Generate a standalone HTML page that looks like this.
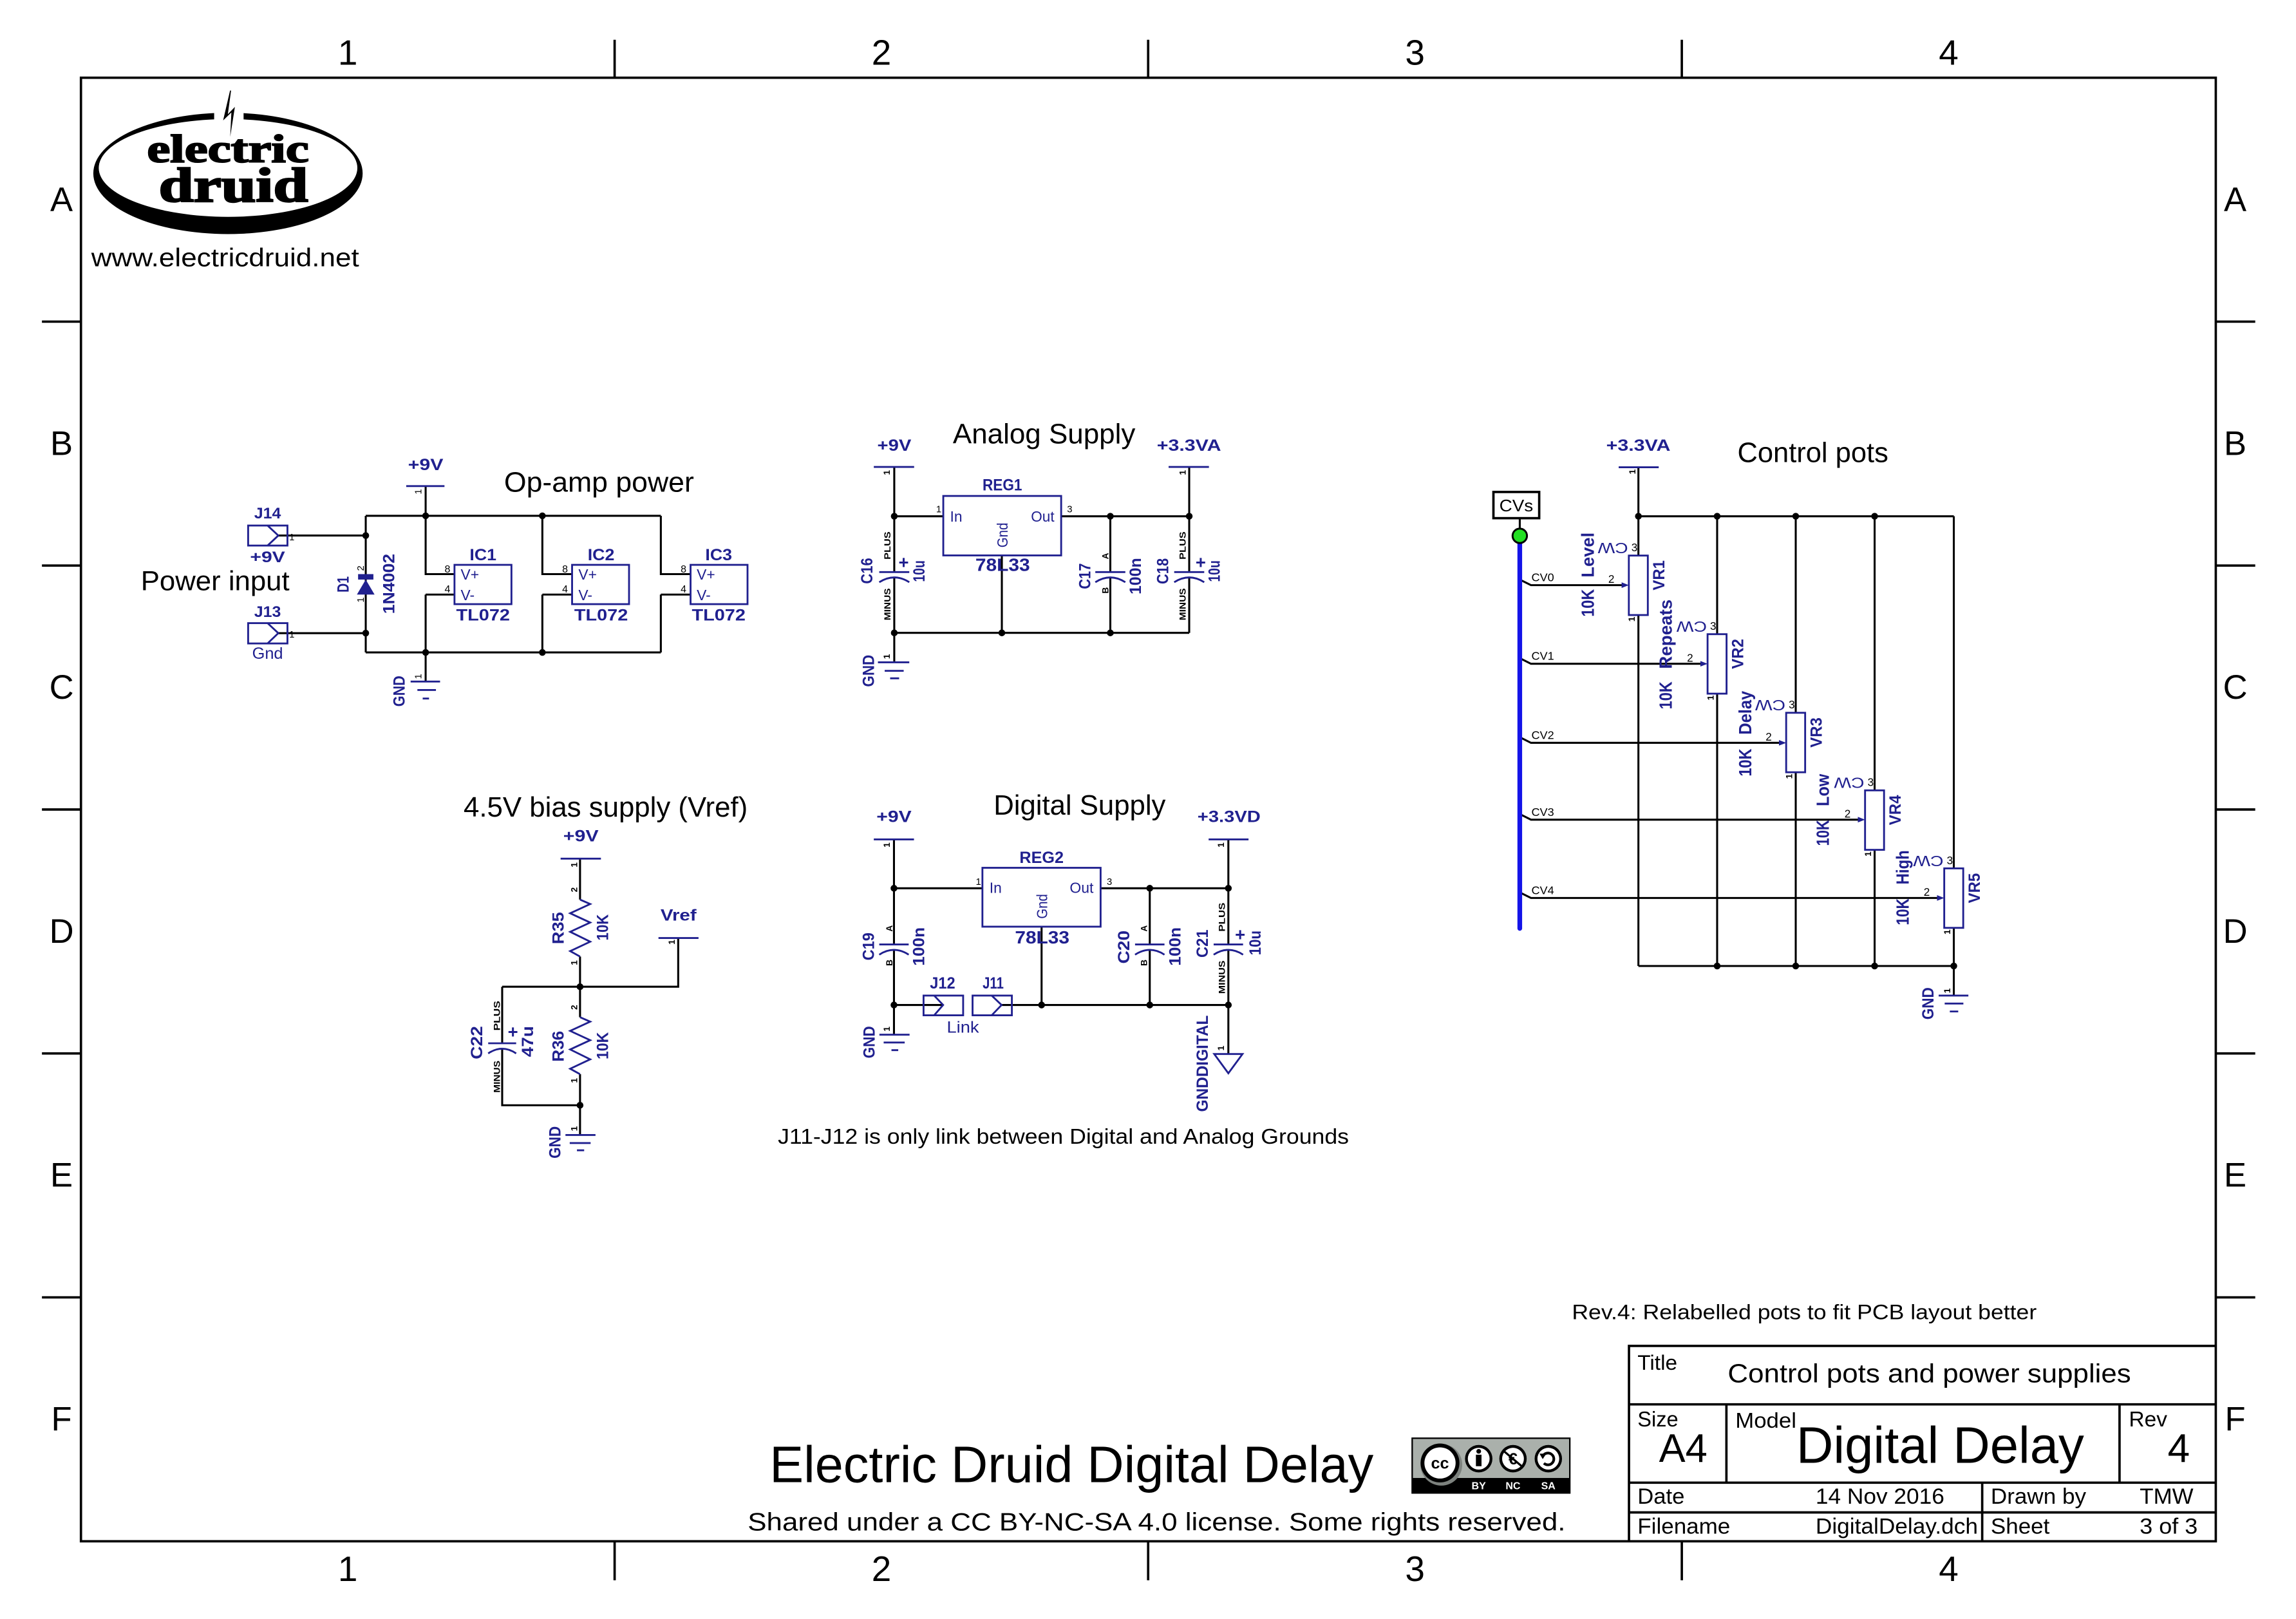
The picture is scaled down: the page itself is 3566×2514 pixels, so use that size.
<!DOCTYPE html>
<html><head><meta charset="utf-8"><style>
html,body{margin:0;padding:0;background:#fff}
svg{display:block}
text{font-family:"Liberation Sans",Arial,sans-serif}
.u{fill:#20208f}
.ub{fill:#20208f;font-weight:bold}
.pn{font-size:6.5px;fill:#000}
.sm{font-size:6px;fill:#000;font-weight:bold}
</style></head><body>
<svg xmlns="http://www.w3.org/2000/svg" width="3566" height="2514" viewBox="0 0 1560 1099.8" preserveAspectRatio="none">
<rect x="0" y="0" width="1560" height="1100" fill="#fff"/>

<!-- FRAME -->
<g stroke="#000" stroke-width="1.6" fill="none">
<rect x="55" y="52.8" width="1450.5" height="994.2"/>
<path d="M417.6,27V52.8M780.1,27V52.8M1142.7,27V52.8M417.6,1047V1073.5M780.1,1047V1073.5M1142.7,1047V1073.5"/>
<path d="M28.5,218.5H55M28.5,384.2H55M28.5,549.9H55M28.5,715.6H55M28.5,881.3H55"/>
<path d="M1505.5,218.5H1532.3M1505.5,384.2H1532.3M1505.5,549.9H1532.3M1505.5,715.6H1532.3M1505.5,881.3H1532.3"/>
</g>
<g font-size="24" text-anchor="middle" fill="#000">
<text x="236.3" y="44">1</text><text x="598.9" y="44">2</text><text x="961.4" y="44">3</text><text x="1324" y="44">4</text>
<text x="236.3" y="1074">1</text><text x="598.9" y="1074">2</text><text x="961.4" y="1074">3</text><text x="1324" y="1074">4</text>
</g>
<g font-size="23" text-anchor="middle" fill="#000">
<text x="41.8" y="143.2">A</text><text x="41.8" y="309">B</text><text x="41.8" y="474.6">C</text><text x="41.8" y="640.4">D</text><text x="41.8" y="806.1">E</text><text x="41.8" y="971.8">F</text>
<text x="1518.7" y="143.2">A</text><text x="1518.7" y="309">B</text><text x="1518.7" y="474.6">C</text><text x="1518.7" y="640.4">D</text><text x="1518.7" y="806.1">E</text><text x="1518.7" y="971.8">F</text>
</g>

<!-- LOGO -->
<path d="M63.4,117.8a91.5,41.2 0 1,0 183,0a91.5,41.2 0 1,0 -183,0ZM67.1,114.1a87.85,33.2 0 1,0 175.7,0a87.85,33.2 0 1,0 -175.7,0Z" fill="#000" fill-rule="evenodd"/>
<rect x="145.5" y="73.5" width="20" height="9.5" fill="#fff"/>
<polygon points="156.3,61.5 151.6,81.8 157.2,76.4 156.4,93 159.6,72.6 154.8,77.6 157,61.5" fill="#000"/>
<text x="99.9" y="110.1" font-weight="bold" font-size="27" textLength="110" lengthAdjust="spacingAndGlyphs" fill="#000" stroke="#000" stroke-width="0.9" style="font-family:'Liberation Serif',serif">electric</text>
<text x="107.9" y="137" font-weight="bold" font-size="33" textLength="101.4" lengthAdjust="spacingAndGlyphs" fill="#000" stroke="#000" stroke-width="1.1" style="font-family:'Liberation Serif',serif">druid</text>
<text x="62" y="180.8" font-size="17.5" textLength="182" lengthAdjust="spacingAndGlyphs" fill="#000">www.electricdruid.net</text>

<!-- ================= OP-AMP POWER ================= -->
<g stroke="#000" stroke-width="1.35" fill="none">
<path d="M248.5,350.4H449M248.5,443.2H449M248.5,350.4V443.2M189.1,363.8H248.5M189.1,430.1H248.5"/>
<path d="M289.2,330.2V390H308.8M289.2,403.9H308.8M289.2,403.9V463"/>
<path d="M368.5,350.4V390H388.7M368.5,403.9H388.7M368.5,403.9V443.2"/>
<path d="M449,350.4V390H469.2M449,403.9H469.2M449,403.9V443.2"/>
</g>
<g stroke="#20208f" stroke-width="1.25" fill="none">
<path d="M276,330.2H302"/>
<rect x="168.6" y="357" width="26.7" height="13.6"/>
<path d="M181.8,357L189.1,363.8L181.8,370.6"/>
<rect x="168.6" y="423.3" width="26.7" height="13.8"/>
<path d="M181.8,423.3L189.1,430.1L181.8,437.1"/>
<rect x="308.8" y="383.7" width="38.7" height="26.7"/>
<rect x="388.7" y="383.7" width="38.7" height="26.7"/>
<rect x="469.2" y="383.7" width="38.7" height="26.7"/>
<path d="M279,463H299M283.6,468.7H296.2M287.2,474.5H291.5"/>
</g>
<rect x="243.3" y="390" width="10.4" height="3.7" fill="#20208f"/>
<polygon points="248.5,393.7 242.5,403.9 254.5,403.9" fill="#20208f"/>
<g fill="#000">
<circle cx="289.2" cy="350.4" r="2.3"/><circle cx="368.5" cy="350.4" r="2.3"/>
<circle cx="248.5" cy="363.8" r="2.3"/><circle cx="248.5" cy="430.1" r="2.3"/>
<circle cx="289.2" cy="443.2" r="2.3"/><circle cx="368.5" cy="443.2" r="2.3"/>
</g>
<text class="ub" x="289.2" y="319.3" font-size="11" text-anchor="middle" textLength="24" lengthAdjust="spacingAndGlyphs">+9V</text>
<text x="342.5" y="334" font-size="19" textLength="129" lengthAdjust="spacingAndGlyphs" fill="#000">Op-amp power</text>
<text class="ub" x="181.8" y="352.1" font-size="10.5" text-anchor="middle" textLength="18.2" lengthAdjust="spacingAndGlyphs">J14</text>
<text class="ub" x="181.8" y="382" font-size="10.5" text-anchor="middle" textLength="23.8" lengthAdjust="spacingAndGlyphs">+9V</text>
<text class="ub" x="181.8" y="419.2" font-size="10.5" text-anchor="middle" textLength="18.2" lengthAdjust="spacingAndGlyphs">J13</text>
<text class="u" x="181.8" y="447.6" font-size="11" text-anchor="middle" textLength="21" lengthAdjust="spacingAndGlyphs">Gnd</text>
<text x="95.7" y="401" font-size="18.5" textLength="101" lengthAdjust="spacingAndGlyphs" fill="#000">Power input</text>
<g class="ub" font-size="11" text-anchor="middle">
<text x="328.2" y="380.5" textLength="18.2" lengthAdjust="spacingAndGlyphs">IC1</text>
<text x="408.4" y="380.5" textLength="18.2" lengthAdjust="spacingAndGlyphs">IC2</text>
<text x="488.3" y="380.5" textLength="18.2" lengthAdjust="spacingAndGlyphs">IC3</text>
<text x="328.2" y="421.4" textLength="36.5" lengthAdjust="spacingAndGlyphs">TL072</text>
<text x="408.4" y="421.4" textLength="36.5" lengthAdjust="spacingAndGlyphs">TL072</text>
<text x="488.3" y="421.4" textLength="36.5" lengthAdjust="spacingAndGlyphs">TL072</text>
</g>
<g class="u" font-size="10">
<text x="313" y="393.8">V+</text><text x="313" y="407.8">V-</text>
<text x="393" y="393.8">V+</text><text x="393" y="407.8">V-</text>
<text x="473.4" y="393.8">V+</text><text x="473.4" y="407.8">V-</text>
</g>
<g font-size="7" fill="#000" text-anchor="middle">
<text x="304" y="389">8</text><text x="304" y="402.5">4</text>
<text x="383.9" y="389">8</text><text x="383.9" y="402.5">4</text>
<text x="464.4" y="389">8</text><text x="464.4" y="402.5">4</text>
</g>
<text class="ub" font-size="11" text-anchor="middle" dy=".35em" transform="translate(233,397) rotate(-90)" textLength="11" lengthAdjust="spacingAndGlyphs">D1</text>
<text class="ub" font-size="11" text-anchor="middle" dy=".35em" transform="translate(264,396.6) rotate(-90)" textLength="40.8" lengthAdjust="spacingAndGlyphs">1N4002</text>
<text class="pn" text-anchor="middle" dy=".35em" transform="translate(245,386) rotate(-90)">2</text>
<text class="pn" text-anchor="middle" dy=".35em" transform="translate(245,407.5) rotate(-90)">1</text>
<text class="ub" font-size="11" text-anchor="middle" dy=".35em" transform="translate(271,469.5) rotate(-90)" textLength="21" lengthAdjust="spacingAndGlyphs">GND</text>
<text class="pn" text-anchor="middle" dy=".35em" transform="translate(284,459.5) rotate(-90)">1</text>
<text class="pn" text-anchor="middle" dy=".35em" transform="translate(284,334) rotate(-90)">1</text>
<text class="pn" x="196.5" y="367">1</text>
<text class="pn" x="196.5" y="433">1</text>

<!-- ================= ANALOG SUPPLY ================= -->
<g stroke="#000" stroke-width="1.35" fill="none">
<path d="M607.6,317.2V388.6M607.6,392V449.9M607.6,350.7H640.9M721,350.7H808"/>
<path d="M808,317.2V388.6M808,392V429.9M754.4,350.7V388.6M754.4,392V429.9"/>
<path d="M680.7,377.3V429.9M607.6,429.9H808"/>
</g>
<g stroke="#20208f" stroke-width="1.25" fill="none">
<path d="M593.7,317.2H621.1M794,317.2H821.4"/>
<path d="M596.5,449.9H617.8M601.1,455.7H614M604.8,460.8H610.9"/>
<path d="M597.4,388.6H617.8M597.4,395.5Q607.6,389 617.8,395.5"/>
<path d="M744.2,388.6H764.6M744.2,395.5Q754.4,389 764.6,395.5"/>
<path d="M797.8,388.6H818.2M797.8,395.5Q808,389 818.2,395.5"/>
<rect x="640.9" y="336.9" width="80.1" height="40.4"/>
</g>
<g fill="#000">
<circle cx="607.6" cy="350.7" r="2.3"/><circle cx="754.4" cy="350.7" r="2.3"/><circle cx="808" cy="350.7" r="2.3"/>
<circle cx="607.6" cy="429.9" r="2.3"/><circle cx="680.7" cy="429.9" r="2.3"/><circle cx="754.4" cy="429.9" r="2.3"/>
</g>
<text class="ub" x="607.6" y="306.2" font-size="11" text-anchor="middle" textLength="23.1" lengthAdjust="spacingAndGlyphs">+9V</text>
<text x="647.4" y="301.1" font-size="19" textLength="124" lengthAdjust="spacingAndGlyphs" fill="#000">Analog Supply</text>
<text class="ub" x="786" y="306.2" font-size="11" textLength="43.7" lengthAdjust="spacingAndGlyphs">+3.3VA</text>
<text class="ub" x="681" y="333.2" font-size="11" text-anchor="middle" textLength="26.9" lengthAdjust="spacingAndGlyphs">REG1</text>
<text class="u" x="645.5" y="354.4" font-size="10">In</text>
<text class="u" x="700.5" y="354.4" font-size="10" textLength="15.9" lengthAdjust="spacingAndGlyphs">Out</text>
<text class="u" font-size="10" text-anchor="middle" dy=".35em" transform="translate(681.2,363.5) rotate(-90)" textLength="16.9" lengthAdjust="spacingAndGlyphs">Gnd</text>
<text class="ub" x="662.7" y="387.9" font-size="12" textLength="37.1" lengthAdjust="spacingAndGlyphs">78L33</text>
<text class="pn" x="636" y="348">1</text><text class="pn" x="725" y="348">3</text>
<g class="ub" font-size="11" text-anchor="middle">
<text dy=".35em" transform="translate(589,387.8) rotate(-90)" textLength="17.6" lengthAdjust="spacingAndGlyphs">C16</text>
<text dy=".35em" transform="translate(624.3,388) rotate(-90)" textLength="14.6" lengthAdjust="spacingAndGlyphs">10u</text>
<text dy=".35em" transform="translate(737.1,391.4) rotate(-90)" textLength="17.6" lengthAdjust="spacingAndGlyphs">C17</text>
<text dy=".35em" transform="translate(771.4,391.4) rotate(-90)" textLength="24.8" lengthAdjust="spacingAndGlyphs">100n</text>
<text dy=".35em" transform="translate(790,388) rotate(-90)" textLength="17.6" lengthAdjust="spacingAndGlyphs">C18</text>
<text dy=".35em" transform="translate(825,388) rotate(-90)" textLength="14.6" lengthAdjust="spacingAndGlyphs">10u</text>
<text dy=".35em" transform="translate(590,455.7) rotate(-90)" textLength="21.8" lengthAdjust="spacingAndGlyphs">GND</text>
</g>
<text class="ub" x="614" y="386" font-size="12" text-anchor="middle">+</text>
<text class="ub" x="815.8" y="386" font-size="12" text-anchor="middle">+</text>
<g class="sm" text-anchor="middle">
<text dy=".35em" transform="translate(603,370.6) rotate(-90)" textLength="19" lengthAdjust="spacingAndGlyphs">PLUS</text>
<text dy=".35em" transform="translate(603,410.5) rotate(-90)" textLength="21.8" lengthAdjust="spacingAndGlyphs">MINUS</text>
<text dy=".35em" transform="translate(803.4,370.6) rotate(-90)" textLength="19" lengthAdjust="spacingAndGlyphs">PLUS</text>
<text dy=".35em" transform="translate(803.4,410.5) rotate(-90)" textLength="21.8" lengthAdjust="spacingAndGlyphs">MINUS</text>
<text dy=".35em" transform="translate(751,377.7) rotate(-90)">A</text>
<text dy=".35em" transform="translate(751,401) rotate(-90)">B</text>
<text dy=".35em" transform="translate(602.5,321) rotate(-90)">1</text>
<text dy=".35em" transform="translate(803.5,321) rotate(-90)">1</text>
<text dy=".35em" transform="translate(602.5,446) rotate(-90)">1</text>
</g>

<!-- ================= BIAS SUPPLY ================= -->
<g stroke="#000" stroke-width="1.35" fill="none">
<path d="M394.1,583.3V611.1M394.1,649.8V691M394.1,729.7V771"/>
<path d="M341.2,670.3H460.8V637.2M341.2,670.3V708.7M341.2,712.2V750.8H394.1"/>
</g>
<g stroke="#20208f" stroke-width="1.25" fill="none">
<path d="M380.9,583.3H408.3M447.4,637.2H474.6"/>
<polyline points="394.1,611.1 401,614.1 387.4,620.4 401,626.7 387.4,633 401,639.7 387.4,646.1 394.1,649.8"/>
<polyline points="394.1,691 401,694 387.4,700.3 401,706.6 387.4,712.9 401,719.6 387.4,726 394.1,729.7"/>
<path d="M331.7,708.7H350.7M331.7,715.6Q341.2,709.2 350.7,715.6"/>
<path d="M384.2,771H404.6M387.1,776.5H401.3M392,781.4H396.9"/>
</g>
<g fill="#000"><circle cx="394.1" cy="670.3" r="2.3"/><circle cx="394.1" cy="750.8" r="2.3"/></g>
<text x="315" y="554.7" font-size="19" textLength="193" lengthAdjust="spacingAndGlyphs" fill="#000">4.5V bias supply (Vref)</text>
<text class="ub" x="394.7" y="571.6" font-size="11" text-anchor="middle" textLength="24" lengthAdjust="spacingAndGlyphs">+9V</text>
<text class="ub" x="461" y="625.4" font-size="11" text-anchor="middle" textLength="24.4" lengthAdjust="spacingAndGlyphs">Vref</text>
<g class="ub" font-size="11" text-anchor="middle">
<text dy=".35em" transform="translate(379.1,630.5) rotate(-90)" textLength="21.9" lengthAdjust="spacingAndGlyphs">R35</text>
<text dy=".35em" transform="translate(409.3,630) rotate(-90)" textLength="17.7" lengthAdjust="spacingAndGlyphs">10K</text>
<text dy=".35em" transform="translate(379.1,710.8) rotate(-90)" textLength="21" lengthAdjust="spacingAndGlyphs">R36</text>
<text dy=".35em" transform="translate(409.3,710.4) rotate(-90)" textLength="18.5" lengthAdjust="spacingAndGlyphs">10K</text>
<text dy=".35em" transform="translate(323.7,708.3) rotate(-90)" textLength="22.6" lengthAdjust="spacingAndGlyphs">C22</text>
<text dy=".35em" transform="translate(358.3,707.5) rotate(-90)" textLength="21" lengthAdjust="spacingAndGlyphs">47u</text>
<text dy=".35em" transform="translate(377,776) rotate(-90)" textLength="21.9" lengthAdjust="spacingAndGlyphs">GND</text>
</g>
<text class="ub" x="348.5" y="705" font-size="12" text-anchor="middle">+</text>
<g class="sm" text-anchor="middle">
<text dy=".35em" transform="translate(337.6,690) rotate(-90)" textLength="20.3" lengthAdjust="spacingAndGlyphs">PLUS</text>
<text dy=".35em" transform="translate(337.6,731.4) rotate(-90)" textLength="21.8" lengthAdjust="spacingAndGlyphs">MINUS</text>
<text dy=".35em" transform="translate(390,587.5) rotate(-90)">1</text>
<text dy=".35em" transform="translate(390,604.4) rotate(-90)">2</text>
<text dy=".35em" transform="translate(390,654) rotate(-90)">1</text>
<text dy=".35em" transform="translate(390,684.3) rotate(-90)">2</text>
<text dy=".35em" transform="translate(390,734) rotate(-90)">1</text>
<text dy=".35em" transform="translate(390,766.7) rotate(-90)">1</text>
<text dy=".35em" transform="translate(456.4,640) rotate(-90)">1</text>
</g>

<!-- ================= DIGITAL SUPPLY ================= -->
<g stroke="#000" stroke-width="1.35" fill="none">
<path d="M607.4,570.2V641.6M607.4,645V702.9M607.4,603.4H667.5M747.8,603.4H834.6"/>
<path d="M834.6,570.2V641.6M834.6,645V716M781.2,603.4V641.6M781.2,645V682.7"/>
<path d="M707.7,629.5V682.7M607.4,682.7H640.8M680.5,682.7H834.6"/>
</g>
<g stroke="#20208f" stroke-width="1.25" fill="none">
<path d="M593.7,570.2H621M821.2,570.2H848.3"/>
<rect x="667.5" y="589.5" width="80.3" height="40"/>
<path d="M597.4,641.6H617.4M597.4,648.5Q607.4,642 617.4,648.5"/>
<path d="M771.2,641.6H791.2M771.2,648.5Q781.2,642 791.2,648.5"/>
<path d="M824.6,641.6H844.6M824.6,648.5Q834.6,642 844.6,648.5"/>
<rect x="627.5" y="676.3" width="26.9" height="13.4"/>
<path d="M634.7,676.3L640.8,682.7L634.7,689.7"/>
<rect x="660.8" y="676.3" width="26.7" height="13.4"/>
<path d="M673.8,676.3L680.5,682.7L673.8,689.7"/>
<path d="M597.5,702.9H618M600.4,708.2H614.7M605.7,713.4H610.3"/>
<path d="M825,716H844.2L834.6,729.1Z"/>
</g>
<g fill="#000">
<circle cx="607.4" cy="603.4" r="2.3"/><circle cx="781.2" cy="603.4" r="2.3"/><circle cx="834.6" cy="603.4" r="2.3"/>
<circle cx="607.4" cy="682.7" r="2.3"/><circle cx="707.7" cy="682.7" r="2.3"/><circle cx="781.2" cy="682.7" r="2.3"/><circle cx="834.6" cy="682.7" r="2.3"/>
</g>
<text x="675.1" y="553.4" font-size="19" textLength="116.9" lengthAdjust="spacingAndGlyphs" fill="#000">Digital Supply</text>
<text class="ub" x="607.4" y="558.5" font-size="11" text-anchor="middle" textLength="23.8" lengthAdjust="spacingAndGlyphs">+9V</text>
<text class="ub" x="813.6" y="558.5" font-size="11" textLength="42.9" lengthAdjust="spacingAndGlyphs">+3.3VD</text>
<text class="ub" x="707.7" y="586.2" font-size="11" text-anchor="middle" textLength="30" lengthAdjust="spacingAndGlyphs">REG2</text>
<text class="u" x="672.3" y="606.6" font-size="10">In</text>
<text class="u" x="726.8" y="606.6" font-size="10" textLength="16.2" lengthAdjust="spacingAndGlyphs">Out</text>
<text class="u" font-size="10" text-anchor="middle" dy=".35em" transform="translate(708,615.7) rotate(-90)" textLength="16.8" lengthAdjust="spacingAndGlyphs">Gnd</text>
<text class="ub" x="689.6" y="640.9" font-size="12" textLength="37" lengthAdjust="spacingAndGlyphs">78L33</text>
<text class="pn" x="663" y="601">1</text><text class="pn" x="752" y="601">3</text>
<g class="ub" font-size="11" text-anchor="middle">
<text dy=".35em" transform="translate(590,643) rotate(-90)" textLength="18.9" lengthAdjust="spacingAndGlyphs">C19</text>
<text dy=".35em" transform="translate(624.2,643) rotate(-90)" textLength="26.2" lengthAdjust="spacingAndGlyphs">100n</text>
<text dy=".35em" transform="translate(763.4,643.4) rotate(-90)" textLength="22.6" lengthAdjust="spacingAndGlyphs">C20</text>
<text dy=".35em" transform="translate(798.2,643) rotate(-90)" textLength="26.2" lengthAdjust="spacingAndGlyphs">100n</text>
<text dy=".35em" transform="translate(816.8,641) rotate(-90)" textLength="19" lengthAdjust="spacingAndGlyphs">C21</text>
<text dy=".35em" transform="translate(852.6,640.5) rotate(-90)" textLength="16.8" lengthAdjust="spacingAndGlyphs">10u</text>
<text dy=".35em" transform="translate(590.4,708) rotate(-90)" textLength="21.9" lengthAdjust="spacingAndGlyphs">GND</text>
<text dy=".35em" transform="translate(816.8,722.5) rotate(-90)" textLength="65.6" lengthAdjust="spacingAndGlyphs">GNDDIGITAL</text>
</g>
<text class="ub" x="842.6" y="639" font-size="12" text-anchor="middle">+</text>
<text class="ub" x="640.4" y="671.5" font-size="11" text-anchor="middle" textLength="17.2" lengthAdjust="spacingAndGlyphs">J12</text>
<text class="ub" x="674.8" y="671.5" font-size="11" text-anchor="middle" textLength="14.3" lengthAdjust="spacingAndGlyphs">J11</text>
<text class="u" x="643.3" y="701.4" font-size="11" textLength="21.9" lengthAdjust="spacingAndGlyphs">Link</text>
<g class="sm" text-anchor="middle">
<text dy=".35em" transform="translate(604.2,630.7) rotate(-90)">A</text>
<text dy=".35em" transform="translate(604.2,654) rotate(-90)">B</text>
<text dy=".35em" transform="translate(777.3,630.7) rotate(-90)">A</text>
<text dy=".35em" transform="translate(777.3,654) rotate(-90)">B</text>
<text dy=".35em" transform="translate(830.2,623) rotate(-90)" textLength="19.7" lengthAdjust="spacingAndGlyphs">PLUS</text>
<text dy=".35em" transform="translate(830.2,663.8) rotate(-90)" textLength="22.6" lengthAdjust="spacingAndGlyphs">MINUS</text>
<text dy=".35em" transform="translate(602.5,574) rotate(-90)">1</text>
<text dy=".35em" transform="translate(829.5,574) rotate(-90)">1</text>
<text dy=".35em" transform="translate(602.5,699) rotate(-90)">1</text>
<text dy=".35em" transform="translate(829.5,712) rotate(-90)">1</text>
</g>
<text x="528.5" y="777" font-size="14.5" textLength="388" lengthAdjust="spacingAndGlyphs" fill="#000">J11-J12 is only link between Digital and Analog Grounds</text>

<!-- ================= CONTROL POTS ================= -->
<g stroke="#000" stroke-width="1.35" fill="none">
<path d="M1113.2,317.4V377.4M1113.2,350.7H1327.5"/>
<path d="M1166.7,350.7V430.8M1220.1,350.7V484.2M1273.7,350.7V536.9M1327.5,350.7V589.9"/>
<path d="M1113.2,417.8V656.2M1166.7,471.2V656.2M1220.1,524.6V656.2M1273.7,577.3V656.2M1327.5,630.3V656.2"/>
<path d="M1113.2,656.2H1327.5M1327.5,656.2V676.3"/>
<path d="M1033.6,394.2L1040.2,397.5H1102.5"/>
<path d="M1033.6,447.6L1040.2,450.9H1156"/>
<path d="M1033.6,501.3L1040.2,504.6H1209.4"/>
<path d="M1033.6,553.5L1040.2,556.8H1263"/>
<path d="M1033.6,606.7L1040.2,610H1316.8"/>
<rect x="1014.7" y="334.2" width="31.1" height="17.8" stroke-width="1.6"/>
<path d="M1032.6,352V359.4"/>
</g>
<path d="M1032.6,368.8V630.7" stroke="#1414e8" stroke-width="3.2" stroke-linecap="round" fill="none"/>
<circle cx="1032.6" cy="364" r="4.9" fill="#22e022" stroke="#000" stroke-width="1.3"/>
<g stroke="#20208f" stroke-width="1.25" fill="none">
<path d="M1099.8,317.4H1127"/>
<rect x="1106.7" y="377.4" width="12.9" height="40.4"/>
<rect x="1160.2" y="430.8" width="12.9" height="40.4"/>
<rect x="1213.6" y="484.2" width="12.9" height="40.4"/>
<rect x="1267.2" y="536.9" width="12.9" height="40.4"/>
<rect x="1321" y="589.9" width="12.9" height="40.4"/>
<path d="M1317.2,676.3H1337.4M1321.3,681.7H1334M1324.8,687.1H1330.5"/>
</g>
<g fill="#20208f">
<polygon points="1101.8,395.6 1101.8,399.4 1106.7,397.5"/>
<polygon points="1155.3,449 1155.3,452.8 1160.2,450.9"/>
<polygon points="1208.7,502.7 1208.7,506.5 1213.6,504.6"/>
<polygon points="1262.3,554.9 1262.3,558.7 1267.2,556.8"/>
<polygon points="1316.1,608.1 1316.1,611.9 1321,610"/>
</g>
<g fill="#000">
<circle cx="1113.2" cy="350.7" r="2.3"/><circle cx="1166.7" cy="350.7" r="2.3"/><circle cx="1220.1" cy="350.7" r="2.3"/><circle cx="1273.7" cy="350.7" r="2.3"/>
<circle cx="1166.7" cy="656.2" r="2.3"/><circle cx="1220.1" cy="656.2" r="2.3"/><circle cx="1273.7" cy="656.2" r="2.3"/><circle cx="1327.5" cy="656.2" r="2.3"/>
</g>
<text class="ub" x="1091.3" y="306.3" font-size="11" textLength="43.7" lengthAdjust="spacingAndGlyphs">+3.3VA</text>
<text x="1180.5" y="313.8" font-size="19" textLength="102.5" lengthAdjust="spacingAndGlyphs" fill="#000">Control pots</text>
<text x="1030.2" y="347.3" font-size="11.5" text-anchor="middle" textLength="23" lengthAdjust="spacingAndGlyphs" fill="#000">CVs</text>
<g font-size="7.5" fill="#000">
<text x="1040.5" y="394.9" textLength="15.4" lengthAdjust="spacingAndGlyphs">CV0</text>
<text x="1040.5" y="448.3" textLength="15.4" lengthAdjust="spacingAndGlyphs">CV1</text>
<text x="1040.5" y="502" textLength="15.4" lengthAdjust="spacingAndGlyphs">CV2</text>
<text x="1040.5" y="554.2" textLength="15.4" lengthAdjust="spacingAndGlyphs">CV3</text>
<text x="1040.5" y="607.4" textLength="15.4" lengthAdjust="spacingAndGlyphs">CV4</text>
</g>
<g font-size="7.5" fill="#000" text-anchor="middle">
<text x="1094.8" y="396">2</text><text x="1148.3" y="449.4">2</text><text x="1201.7" y="503.1">2</text><text x="1255.3" y="555.3">2</text><text x="1309.1" y="608.5">2</text>
<text x="1110.5" y="374.5">3</text><text x="1164" y="427.9">3</text><text x="1217.4" y="481.3">3</text><text x="1271" y="534">3</text><text x="1324.8" y="587">3</text>
</g>
<g class="sm" text-anchor="middle">
<text dy=".35em" transform="translate(1108.6,420.6) rotate(-90)">1</text>
<text dy=".35em" transform="translate(1162.1,474) rotate(-90)">1</text>
<text dy=".35em" transform="translate(1215.5,527.4) rotate(-90)">1</text>
<text dy=".35em" transform="translate(1269.1,580.1) rotate(-90)">1</text>
<text dy=".35em" transform="translate(1322.9,633.1) rotate(-90)">1</text>
<text dy=".35em" transform="translate(1109,320.5) rotate(-90)">1</text>
<text dy=".35em" transform="translate(1322.9,673) rotate(-90)">1</text>
</g>
<g class="u" font-size="10" text-anchor="middle">
<text dy=".35em" transform="translate(1095.9,372.3) rotate(180)" textLength="20.6" lengthAdjust="spacingAndGlyphs">CW</text>
<text dy=".35em" transform="translate(1149.4,425.7) rotate(180)" textLength="20.6" lengthAdjust="spacingAndGlyphs">CW</text>
<text dy=".35em" transform="translate(1202.8,479.1) rotate(180)" textLength="20.6" lengthAdjust="spacingAndGlyphs">CW</text>
<text dy=".35em" transform="translate(1256.4,531.8) rotate(180)" textLength="20.6" lengthAdjust="spacingAndGlyphs">CW</text>
<text dy=".35em" transform="translate(1310.2,584.8) rotate(180)" textLength="20.6" lengthAdjust="spacingAndGlyphs">CW</text>
</g>
<g class="ub" font-size="11" text-anchor="middle">
<text dy=".35em" transform="translate(1127,390.8) rotate(-90)" textLength="20.4" lengthAdjust="spacingAndGlyphs">VR1</text>
<text dy=".35em" transform="translate(1180.5,444.2) rotate(-90)" textLength="20.4" lengthAdjust="spacingAndGlyphs">VR2</text>
<text dy=".35em" transform="translate(1233.9,497.6) rotate(-90)" textLength="20.4" lengthAdjust="spacingAndGlyphs">VR3</text>
<text dy=".35em" transform="translate(1287.5,550.3) rotate(-90)" textLength="20.4" lengthAdjust="spacingAndGlyphs">VR4</text>
<text dy=".35em" transform="translate(1341.3,603.3) rotate(-90)" textLength="20.4" lengthAdjust="spacingAndGlyphs">VR5</text>
<text dy=".35em" transform="translate(1309.8,681.7) rotate(-90)" textLength="21.9" lengthAdjust="spacingAndGlyphs">GND</text>
</g>
<g class="ub" font-size="12" text-anchor="middle">
<text dy=".35em" transform="translate(1078.7,377) rotate(-90)" textLength="30.6" lengthAdjust="spacingAndGlyphs">Level</text>
<text dy=".35em" transform="translate(1078.7,409.6) rotate(-90)" textLength="18.8" lengthAdjust="spacingAndGlyphs">10K</text>
<text dy=".35em" transform="translate(1131.6,430.8) rotate(-90)" textLength="47.2" lengthAdjust="spacingAndGlyphs">Repeats</text>
<text dy=".35em" transform="translate(1131.6,472.4) rotate(-90)" textLength="18.8" lengthAdjust="spacingAndGlyphs">10K</text>
<text dy=".35em" transform="translate(1185.6,484.2) rotate(-90)" textLength="29.8" lengthAdjust="spacingAndGlyphs">Delay</text>
<text dy=".35em" transform="translate(1185.6,518) rotate(-90)" textLength="18.9" lengthAdjust="spacingAndGlyphs">10K</text>
<text dy=".35em" transform="translate(1238.5,536.7) rotate(-90)" textLength="21.9" lengthAdjust="spacingAndGlyphs">Low</text>
<text dy=".35em" transform="translate(1238.5,565.8) rotate(-90)" textLength="17.6" lengthAdjust="spacingAndGlyphs">10K</text>
<text dy=".35em" transform="translate(1292.6,589.2) rotate(-90)" textLength="23.3" lengthAdjust="spacingAndGlyphs">High</text>
<text dy=".35em" transform="translate(1292.6,619.4) rotate(-90)" textLength="18.2" lengthAdjust="spacingAndGlyphs">10K</text>
</g>

<!-- ================= NOTES / TITLE ================= -->
<text x="1068" y="896.1" font-size="14" textLength="315.8" lengthAdjust="spacingAndGlyphs" fill="#000">Rev.4: Relabelled pots to fit PCB layout better</text>

<g stroke="#000" stroke-width="1.6" fill="none">
<path d="M1106.8,1047V914.3H1505.5"/>
<path d="M1106.8,954H1505.5M1106.8,1007.2H1505.5M1106.8,1027.4H1505.5"/>
<path d="M1173,954V1007.2M1440.1,954V1007.2M1346.8,1007.2V1047"/>
</g>
<g fill="#000">
<text x="1112.6" y="930.4" font-size="14" textLength="27" lengthAdjust="spacingAndGlyphs">Title</text>
<text x="1173.9" y="939.1" font-size="18" textLength="274" lengthAdjust="spacingAndGlyphs">Control pots and power supplies</text>
<text x="1112.6" y="969" font-size="14.5" textLength="27.7" lengthAdjust="spacingAndGlyphs">Size</text>
<text x="1127.2" y="993.1" font-size="27" textLength="32.9" lengthAdjust="spacingAndGlyphs">A4</text>
<text x="1179.1" y="969.8" font-size="14.5" textLength="41.4" lengthAdjust="spacingAndGlyphs">Model</text>
<text x="1220.5" y="993.8" font-size="35" textLength="195.5" lengthAdjust="spacingAndGlyphs">Digital Delay</text>
<text x="1446.5" y="969" font-size="14.5" textLength="26" lengthAdjust="spacingAndGlyphs">Rev</text>
<text x="1472.8" y="993.1" font-size="27" textLength="15.1" lengthAdjust="spacingAndGlyphs">4</text>
<text x="1112.6" y="1021.5" font-size="15" textLength="32" lengthAdjust="spacingAndGlyphs">Date</text>
<text x="1233.6" y="1021.5" font-size="15" textLength="87.5" lengthAdjust="spacingAndGlyphs">14 Nov 2016</text>
<text x="1352.6" y="1021.5" font-size="15" textLength="64.8" lengthAdjust="spacingAndGlyphs">Drawn by</text>
<text x="1453.8" y="1021.5" font-size="15" textLength="36.5" lengthAdjust="spacingAndGlyphs">TMW</text>
<text x="1112.6" y="1041.9" font-size="15" textLength="63" lengthAdjust="spacingAndGlyphs">Filename</text>
<text x="1233.6" y="1041.9" font-size="15" textLength="110.3" lengthAdjust="spacingAndGlyphs">DigitalDelay.dch</text>
<text x="1352.6" y="1041.9" font-size="15" textLength="40" lengthAdjust="spacingAndGlyphs">Sheet</text>
<text x="1453.8" y="1041.9" font-size="15" textLength="39.4" lengthAdjust="spacingAndGlyphs">3 of 3</text>
<text x="522.9" y="1006.9" font-size="35" textLength="410.3" lengthAdjust="spacingAndGlyphs">Electric Druid Digital Delay</text>
<text x="508" y="1039.7" font-size="17" textLength="555.7" lengthAdjust="spacingAndGlyphs">Shared under a CC BY-NC-SA 4.0 license. Some rights reserved.</text>
</g>

<!-- CC logo -->
<rect x="959.5" y="977" width="107.1" height="37.2" fill="#aab0ab" stroke="#000" stroke-width="1"/>
<rect x="959.5" y="1004" width="107.1" height="10.2" fill="#000"/>
<circle cx="979.3" cy="995" r="14.2" fill="#7d827e"/>
<circle cx="978.4" cy="993.8" r="13.2" fill="#000"/>
<circle cx="978.4" cy="993.8" r="10.6" fill="#fff"/>
<text x="978.4" y="997.6" font-size="11" font-weight="bold" text-anchor="middle" fill="#000">cc</text>
<circle cx="1004.7" cy="990.9" r="9.3" fill="#000"/><circle cx="1004.7" cy="990.9" r="7.4" fill="#fff"/>
<circle cx="1004.7" cy="985.9" r="1.6" fill="#000"/><rect x="1002.8" y="988.2" width="3.8" height="7.8" fill="#000"/>
<circle cx="1028" cy="990.9" r="9.3" fill="#000"/><circle cx="1028" cy="990.9" r="7.4" fill="#fff"/>
<text x="1028" y="994.8" font-size="11" font-weight="bold" text-anchor="middle" fill="#000">€</text>
<path d="M1021.5,985.5L1034.5,996.5" stroke="#000" stroke-width="1.4"/>
<circle cx="1052" cy="990.9" r="9.3" fill="#000"/><circle cx="1052" cy="990.9" r="7.4" fill="#fff"/>
<path d="M1048.2,989.2A4,4 0 1,1 1049,994" stroke="#000" stroke-width="1.8" fill="none"/>
<polygon points="1046,987.5 1050.6,987.5 1048.2,991.2" fill="#000"/>
<g font-size="7" fill="#fff" text-anchor="middle" font-weight="bold">
<text x="1004.7" y="1011.7">BY</text><text x="1028" y="1011.7">NC</text><text x="1052" y="1011.7">SA</text>
</g>
</svg>
</body></html>
